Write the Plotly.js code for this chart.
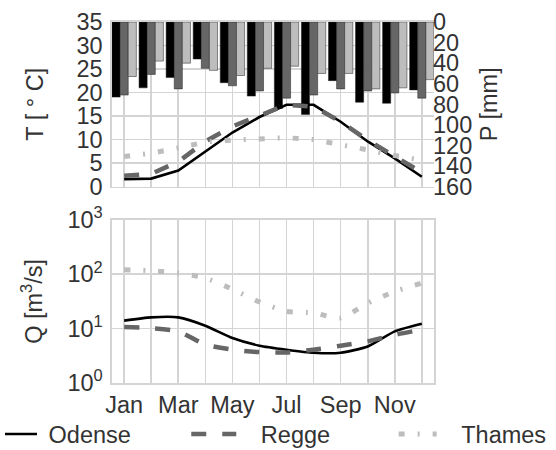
<!DOCTYPE html>
<html><head><meta charset="utf-8">
<script src="https://cdn.plot.ly/plotly-3.0.1.min.js"></script>
<style>html,body{margin:0;padding:0;background:#fff}#chart{width:556px;height:450px}</style>
</head><body><div id="chart"></div>
<script>
const months = ['Jan','Feb','Mar','Apr','May','Jun','Jul','Aug','Sep','Oct','Nov','Dec'];
const tickLabels = ['Jan','Mar','May','Jul','Sep','Nov'];
const seriesNames = ['Odense','Regge','Thames'];

const precipOdense = [73, 64, 54, 36, 59, 72, 84, 90, 57, 78, 79, 66];
const precipRegge  = [71, 51, 65, 45, 62, 67, 74, 71, 65, 67, 69, 74];
const precipThames = [53, 38, 40, 47, 52, 45, 43, 50, 50, 65, 64, 56];

const tempOdense = [1.6, 1.7, 3.4, 7.4, 11.5, 14.8, 17.4, 17.4, 13.8, 9.6, 6.0, 2.1];
const tempRegge  = [2.3, 2.7, 5.3, 9.6, 12.8, 15.0, 17.4, 17.0, 13.8, 9.9, 6.4, 3.0];
const tempThames = [6.4, 7.1, 8.2, 9.5, 9.9, 10.1, 10.4, 10.0, 9.0, 7.8, 6.6, 5.6];

const flowOdense = [14.0, 16.1, 16.1, 11.3, 6.7, 4.85, 4.1, 3.6, 3.6, 4.7, 8.9, 12.3];
const flowRegge  = [10.7, 10.2, 8.9, 5.1, 4.1, 3.7, 3.65, 4.1, 4.85, 5.8, 7.7, 9.6];
const flowThames = [121, 116, 105, 85, 53, 31, 20.7, 19.4, 15.7, 29.5, 48, 69];

const qTickVals = [1, 10, 100, 1000];
const qTickText = ['10<sup>0</sup>','10<sup>1</sup>','10<sup>2</sup>','10<sup>3</sup>'];

const x = months.map((m, i) => i + 1);
const labelPos = tickLabels.map(l => months.indexOf(l) + 1);

const barColors = ['#000000', '#666666', '#bdbdbd'];
const lineStyles = [
  {color: '#000000', width: 2.6, dash: 'solid'},
  {color: '#666666', width: 4.5, dash: '15px,16px'},
  {color: '#bdbdbd', width: 5, dash: '6px,13px,2px,13px'}
];
const barOffsets = [-0.45, -0.15, 0.15];

const precip = [precipOdense, precipRegge, precipThames];
const temp = [tempOdense, tempRegge, tempThames];
const flow = [flowOdense, flowRegge, flowThames];
const legendIds = ['legend', 'legend2', 'legend3'];
const legendPad = ['\u00a0', '\u00a0\u00a0\u00a0', '\u00a0\u00a0\u00a0'];

const traces = [];
precip.forEach((p, i) => {
  traces.push({
    type: 'bar', x: x, y: p, xaxis: 'x', yaxis: 'y',
    width: 0.3, offset: barOffsets[i], base: 0,
    marker: {color: barColors[i], line: {color: 'rgba(30,30,30,0.7)', width: 0.7}},
    showlegend: false, hoverinfo: 'skip'
  });
});
temp.forEach((t, i) => {
  traces.push({
    type: 'scatter', mode: 'lines', x: x, y: t, xaxis: 'x', yaxis: 'y2',
    name: legendPad[i] + seriesNames[i], line: lineStyles[i], legend: legendIds[i], showlegend: true
  });
});
flow.forEach((q, i) => {
  traces.push({
    type: 'scatter', mode: 'lines', x: x, y: q, xaxis: 'x2', yaxis: 'y3',
    name: seriesNames[i], line: Object.assign({shape: 'spline', smoothing: 0.6}, lineStyles[i]), showlegend: false
  });
});

const gridC = '#d4d4d4';
const font = {family: 'Liberation Sans, Arial, sans-serif', size: 23.5, color: '#333333'};
const baseX = {
  range: [0.55, 12.45], tickvals: labelPos, ticktext: tickLabels,
  showgrid: true, gridcolor: gridC, gridwidth: 1.6,
  minor: {tick0: 1, dtick: 1, showgrid: true, gridcolor: gridC, gridwidth: 1.6, ticks: ''},
  showline: true, mirror: true, linecolor: gridC, linewidth: 1.6,
  zeroline: false, ticks: '', fixedrange: true
};
const legendBase = {orientation: 'h', xref: 'container', yref: 'container', yanchor: 'middle', y: 0.035,
  bgcolor: 'rgba(0,0,0,0)', font: font, itemwidth: 45};

const layout = {
  width: 556, height: 450,
  margin: {l: 112, r: 122, t: 22, b: 67},
  paper_bgcolor: '#ffffff', plot_bgcolor: '#ffffff',
  font: font, barmode: 'overlay',
  xaxis: Object.assign({}, baseX, {anchor: 'y', showticklabels: false}),
  xaxis2: Object.assign({}, baseX, {anchor: 'y3', showticklabels: true, tickfont: font}),
  yaxis: {domain: [0.544, 1], anchor: 'x', side: 'right', range: [160, 0], tick0: 0, dtick: 20,
    showgrid: false, zeroline: false, showline: false, ticks: '', tickfont: font, ticklabelstandoff: -2,
    title: {text: 'P [mm]', font: font, standoff: 9}},
  yaxis2: {overlaying: 'y', anchor: 'x', side: 'left', range: [0, 35], tick0: 0, dtick: 5,
    showgrid: true, gridcolor: gridC, gridwidth: 1.6, zeroline: false,
    showline: true, linecolor: gridC, linewidth: 1.6, ticks: '', tickfont: font, ticklabelstandoff: 3,
    title: {text: 'T [ ° C]', font: font, standoff: 26}},
  yaxis3: {domain: [0, 0.452], anchor: 'x2', type: 'log', range: [0, 3],
    tickvals: qTickVals, ticktext: qTickText,
    showgrid: true, gridcolor: gridC, gridwidth: 1.6, zeroline: false,
    showline: true, mirror: true, linecolor: gridC, linewidth: 1.6, ticks: '', tickfont: font, ticklabelstandoff: 3,
    title: {text: 'Q [m<sup>3</sup>/s]', font: font, standoff: 18}},
  legend: Object.assign({}, legendBase, {x: 0, itemwidth: 32}),
  legend2: Object.assign({}, legendBase, {x: 0.335}),
  legend3: Object.assign({}, legendBase, {x: 0.708, itemwidth: 38}),
  showlegend: true
};

Plotly.newPlot('chart', traces, layout, {displayModeBar: false, staticPlot: true});
</script></body></html>
